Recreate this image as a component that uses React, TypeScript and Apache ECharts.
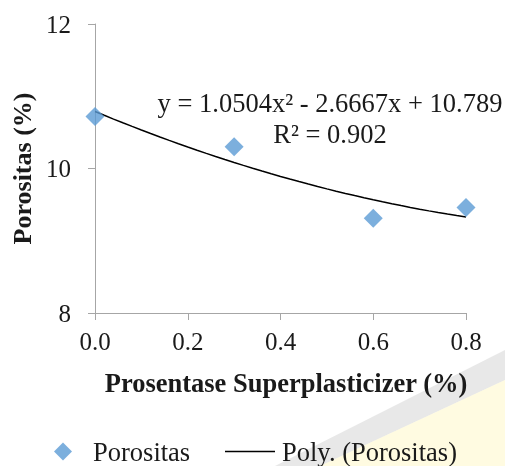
import React, { useEffect, useRef } from "react";
import * as echarts from "echarts";

const xValues = [0.0, 0.3, 0.6, 0.8];
const porositas = [10.72, 10.3, 9.31, 9.46];
const polyCoefs = [1.0504, -2.6667, 10.789]; // a, b, c of trendline (from chart equation)
const trendRange = [0, 0.8];
const equationText = "y = 1.0504x² - 2.6667x + 10.789";
const r2Text = "R² = 0.902";
const xTitle = "Prosentase Superplasticizer (%)";
const yTitle = "Porositas (%)";
const seriesName = "Porositas";
const trendName = "Poly. (Porositas)";

const FONT = "Times New Roman";
const BIG = 26.5;

function trendPoints(): number[][] {
  const pts: number[][] = [];
  const n = 40;
  for (let i = 0; i <= n; i++) {
    const x = trendRange[0] + ((trendRange[1] - trendRange[0]) * i) / n;
    const y = polyCoefs[0] * x * x + polyCoefs[1] * x + polyCoefs[2];
    pts.push([x, y]);
  }
  return pts;
}

export default function App() {
  const ref = useRef<HTMLDivElement>(null);
  useEffect(() => {
    if (!ref.current) return;
    const chart = echarts.init(ref.current, null, { renderer: "svg" });
    chart.setOption({
      animation: false,
      textStyle: { fontFamily: FONT },
      grid: { left: 95, right: 39, top: 24, bottom: 153, containLabel: false },
      xAxis: {
        type: "value",
        min: 0,
        max: 0.8,
        interval: 0.2,
        name: xTitle,
        nameLocation: "middle",
        nameGap: 56,
        nameTextStyle: { fontFamily: FONT, fontSize: BIG, fontWeight: "bold", color: "#1a1a1a", padding: [0, 0, 0, 11] },
        axisLine: { show: true, lineStyle: { color: "#a6a6a6", width: 1 } },
        axisTick: { show: true, inside: false, length: 7, lineStyle: { color: "#a6a6a6" } },
        axisLabel: { margin: 16, fontFamily: FONT, fontSize: 25, color: "#1a1a1a", formatter: (v: number) => v.toFixed(1) },
        splitLine: { show: false },
      },
      yAxis: {
        type: "value",
        min: 8,
        max: 12,
        interval: 2,
        name: yTitle,
        nameLocation: "middle",
        nameGap: 58,
        nameRotate: 90,
        nameTextStyle: { fontFamily: FONT, fontSize: 26, fontWeight: "bold", color: "#1a1a1a" },
        axisLine: { show: true, lineStyle: { color: "#a6a6a6", width: 1 } },
        axisTick: { show: true, inside: false, length: 7, lineStyle: { color: "#a6a6a6" } },
        axisLabel: { margin: 24, fontFamily: FONT, fontSize: 25, color: "#1a1a1a" },
        splitLine: { show: false },
      },
      legend: [
        {
          data: [{ name: seriesName, icon: "diamond" }],
          left: 54,
          top: 438,
          padding: 0,
          itemWidth: 18,
          itemHeight: 18,
          textStyle: { fontFamily: FONT, fontSize: BIG, color: "#1a1a1a", padding: [0, 0, 0, 16] },
          selectedMode: false,
        },
        {
          data: [{ name: trendName, icon: "rect", itemStyle: { color: "#000000" } }],
          left: 225,
          top: 438,
          padding: 0,
          itemWidth: 50,
          itemHeight: 1.5,
          textStyle: { fontFamily: FONT, fontSize: BIG, color: "#1a1a1a", padding: [0, 0, 0, 2] },
          selectedMode: false,
        },
      ],
      graphic: [
        {
          type: "polygon",
          silent: true,
          z: -1,
          shape: { points: [[275, 466], [505, 350], [505, 380], [320, 466]] },
          style: { fill: "rgba(190,190,190,0.35)" },
        },
        {
          type: "polygon",
          silent: true,
          z: -1,
          shape: { points: [[320, 466], [505, 380], [505, 466]] },
          style: { fill: "rgba(255,244,170,0.35)" },
        },
        {
          type: "text",
          x: 330,
          y: 89,
          style: { text: equationText, fontFamily: FONT, fontSize: BIG, fill: "#1a1a1a", align: "center", verticalAlign: "top" },
        },
        {
          type: "text",
          x: 330,
          y: 120,
          style: { text: r2Text, fontFamily: FONT, fontSize: BIG, fill: "#1a1a1a", align: "center", verticalAlign: "top" },
        },
      ],
      series: [
        {
          name: seriesName,
          type: "scatter",
          symbol: "diamond",
          symbolSize: 19,
          itemStyle: { color: "#5b9bd5" },
          data: xValues.map((x, i) => [x, porositas[i]]),
          z: 3,
        },
        {
          name: trendName,
          type: "line",
          showSymbol: false,
          symbol: "none",
          smooth: false,
          lineStyle: { color: "#000000", width: 1.5 },
          itemStyle: { color: "#000000" },
          data: trendPoints(),
          z: 2,
        },
      ],
    });
    return () => chart.dispose();
  }, []);
  return <div ref={ref} style={{ position: "fixed", left: 0, top: 0, width: 505, height: 466 }} />;
}
